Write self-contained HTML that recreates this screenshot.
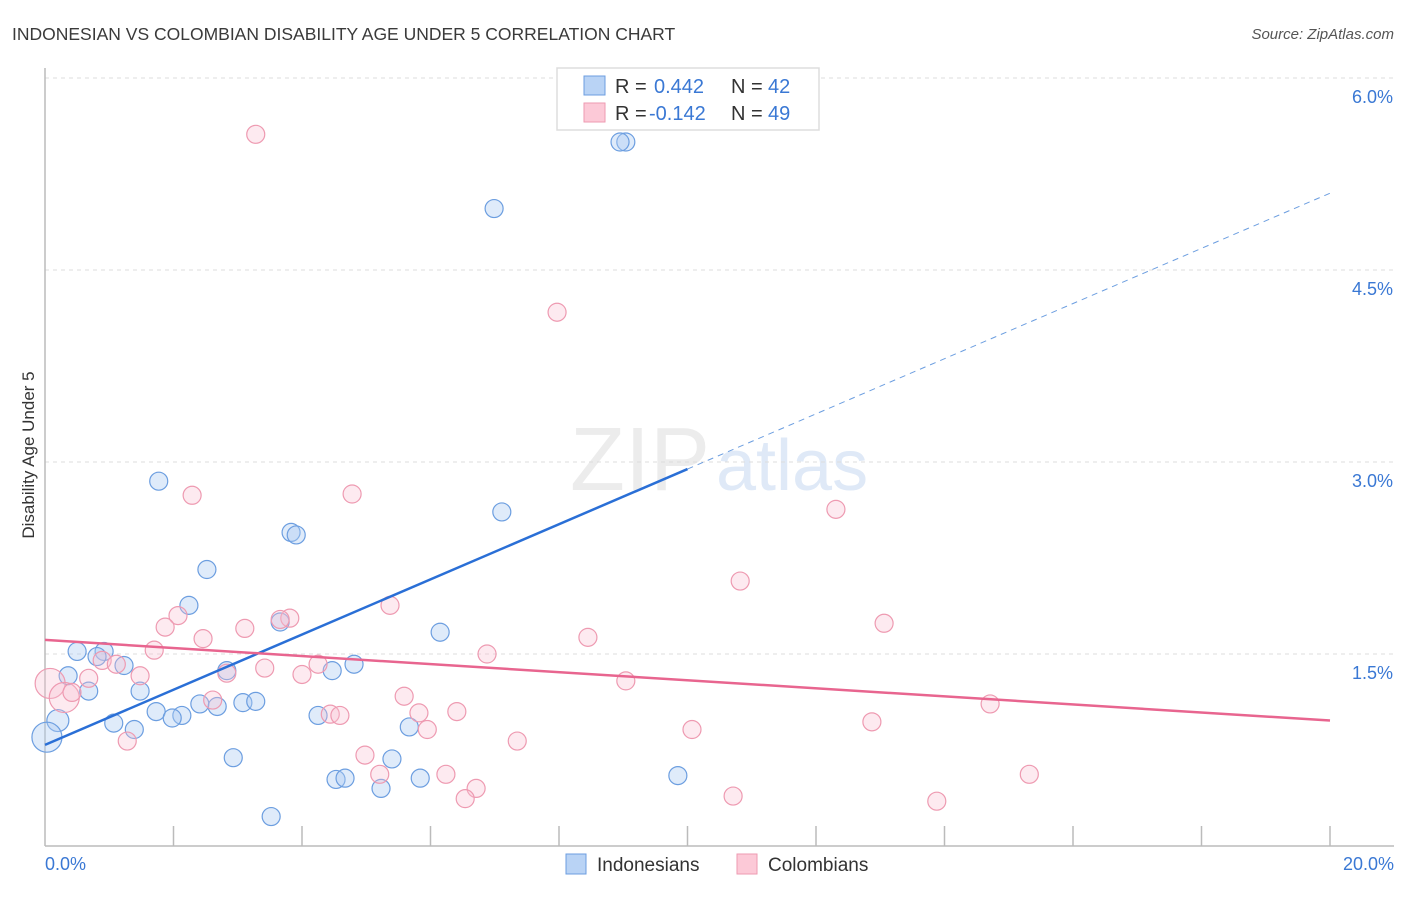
<!DOCTYPE html>
<html><head><meta charset="utf-8">
<style>
body{margin:0;background:#fff;font-family:"Liberation Sans",sans-serif;}
svg text{font-family:"Liberation Sans",sans-serif;}
</style></head>
<body>
<svg id="chart" width="1406" height="892" xmlns="http://www.w3.org/2000/svg">
<text x="12" y="40" font-size="17.5" fill="#3a3a3a">INDONESIAN VS COLOMBIAN DISABILITY AGE UNDER 5 CORRELATION CHART</text>
<text x="1394" y="39" font-size="15" fill="#555" font-style="italic" text-anchor="end">Source: ZipAtlas.com</text>
<text x="710" y="490" font-size="90" fill="#ececec" text-anchor="end" font-family="Liberation Serif">ZIP</text>
<text x="716" y="490" font-size="72" fill="#dfe9f7">atlas</text>
<text transform="translate(34,455) rotate(-90)" font-size="17" fill="#333" text-anchor="middle">Disability Age Under 5</text>
<g id="grid"></g><g id="axes"></g><g id="pts"></g><g id="lines"></g>
<g>
<rect x="557" y="68" width="262" height="62" fill="#fff" stroke="#ddd" stroke-width="1.5"/>
<rect x="584" y="76" width="21" height="19" fill="#b9d3f5" stroke="#6c9ee0"/>
<rect x="584" y="103" width="21" height="19" fill="#fcc9d7" stroke="#ee9ab1"/>
<text x="615" y="93" font-size="20" fill="#333">R = </text><text x="654" y="93" font-size="20" fill="#3a78d4">0.442</text>
<text x="731" y="93" font-size="20" fill="#333">N = </text><text x="768" y="93" font-size="20" fill="#3a78d4">42</text>
<text x="615" y="120" font-size="20" fill="#333">R = </text><text x="649" y="120" font-size="20" fill="#3a78d4">-0.142</text>
<text x="731" y="120" font-size="20" fill="#333">N = </text><text x="768" y="120" font-size="20" fill="#3a78d4">49</text>
</g>
<g>
<rect x="566" y="854" width="20" height="20" fill="#b9d3f5" stroke="#6c9ee0"/>
<text x="597" y="871" font-size="19" fill="#333">Indonesians</text>
<rect x="737" y="854" width="20" height="20" fill="#fcc9d7" stroke="#ee9ab1"/>
<text x="768" y="871" font-size="19" fill="#333">Colombians</text>
</g>
</svg>
<script>
const yTicks=[1.5,3.0,4.5,6.0];
const yTickLabels=["1.5%","3.0%","4.5%","6.0%"];
const xTickLabels=["0.0%","20.0%"];
const blueX=[9.04,8.95,6.99,1.77,7.11,3.83,3.91,2.52,2.24,6.15,3.66,0.50,0.92,0.81,1.23,4.81,4.47,2.83,0.36,0.68,1.48,3.08,3.28,2.41,2.68,1.73,2.13,1.98,4.25,5.67,1.07,1.39,0.20,0.03,2.93,5.40,4.53,4.67,5.84,5.23,9.85,3.52];
const blueY=[5.50,5.50,4.98,2.85,2.61,2.45,2.43,2.16,1.88,1.67,1.75,1.52,1.52,1.48,1.41,1.42,1.37,1.37,1.33,1.21,1.21,1.12,1.13,1.11,1.09,1.05,1.02,1.00,1.02,0.93,0.96,0.91,0.98,0.85,0.69,0.68,0.52,0.53,0.53,0.45,0.55,0.23];
const blueR=[9,9,9,9,9,9,9,9,9,9,9,9,9,9,9,9,9,9,9,9,9,9,9,9,9,9,9,9,9,9,9,9,11,15,9,9,9,9,9,9,9,9];
const pinkX=[3.28,7.97,2.29,4.78,12.31,10.82,5.37,3.81,2.07,13.06,1.87,3.11,2.46,8.45,1.70,6.88,0.89,1.11,4.25,3.42,2.83,1.48,0.68,4.00,9.04,0.08,0.30,0.42,5.59,2.61,14.71,6.41,5.82,4.44,4.59,12.87,10.07,5.95,1.28,7.35,4.98,5.21,6.24,15.32,6.71,6.54,10.71,13.88,3.66];
const pinkY=[5.56,4.17,2.74,2.75,2.63,2.07,1.88,1.78,1.80,1.74,1.71,1.70,1.62,1.63,1.53,1.50,1.45,1.42,1.42,1.39,1.35,1.33,1.31,1.34,1.29,1.27,1.16,1.20,1.17,1.14,1.11,1.05,1.04,1.03,1.02,0.97,0.91,0.91,0.82,0.82,0.71,0.56,0.56,0.56,0.45,0.37,0.39,0.35,1.77];
const pinkR=[9,9,9,9,9,9,9,9,9,9,9,9,9,9,9,9,9,9,9,9,9,9,9,9,9,15,15,9,9,9,9,9,9,9,9,9,9,9,9,9,9,9,9,9,9,9,9,9,9];
const blueTrend=[0.79,5.10];
const pinkTrend=[1.61,0.98];
const NS="http://www.w3.org/2000/svg";
const X=v=>45+v*64.25, Y=v=>846-v*128;
function mk(t,a,p){const e=document.createElementNS(NS,t);for(const k in a)e.setAttribute(k,a[k]);p.appendChild(e);return e;}
const grid=document.getElementById('grid'),axes=document.getElementById('axes');
yTicks.forEach((v,i)=>{
 const l=mk('line',{x1:45,x2:1394,y1:Y(v),y2:Y(v),stroke:'#ddd','stroke-dasharray':'4,4'},grid);
 
 
 const t=mk('text',{x:1393,y:Y(v)+25,'font-size':18,fill:'#3a78d4','text-anchor':'end'},axes);
 t.textContent=yTickLabels[i];
 
 
});
const ax=mk('line',{x1:45,x2:45,y1:68,y2:846,stroke:'#bbb','stroke-width':1.5},axes);


const bx=mk('line',{x1:45,x2:1394,y1:846,y2:846,stroke:'#bbb','stroke-width':1.5},axes);


for(let i=1;i<=10;i++){const t=mk('line',{x1:X(i*2),x2:X(i*2),y1:826,y2:846,stroke:'#bbb','stroke-width':1.5},axes);
 
 }
[[0,'start',45],[1,'end',1394]].forEach(([i,a,x])=>{const t=mk('text',{x:x,y:870,'font-size':18,fill:'#3a78d4','text-anchor':a},axes);t.textContent=xTickLabels[i];
 
 });
const pts=document.getElementById('pts');
blueX.forEach((v,i)=>{const c=mk('circle',{cx:X(v),cy:Y(blueY[i]),r:blueR[i],fill:'rgba(170,202,242,0.38)',stroke:'#6c9ee0','stroke-width':1.2},pts);
 
 });
pinkX.forEach((v,i)=>{const c=mk('circle',{cx:X(v),cy:Y(pinkY[i]),r:pinkR[i],fill:'rgba(250,190,208,0.33)',stroke:'#ee9ab1','stroke-width':1.2},pts);
 
 });
const lines=document.getElementById('lines');
const bm=blueTrend[0]+(blueTrend[1]-blueTrend[0])*0.5;
const l1=mk('line',{x1:X(0),y1:Y(blueTrend[0]),x2:X(10),y2:Y(bm),stroke:'#2a6fd6','stroke-width':2.5},lines);


const l2=mk('line',{x1:X(10),y1:Y(bm),x2:X(20),y2:Y(blueTrend[1]),stroke:'#6c9ee0','stroke-width':1,'stroke-dasharray':'6,5'},lines);


const l3=mk('line',{x1:X(0),y1:Y(pinkTrend[0]),x2:X(20),y2:Y(pinkTrend[1]),stroke:'#e8658f','stroke-width':2.5},lines);


</script>
</body></html>
